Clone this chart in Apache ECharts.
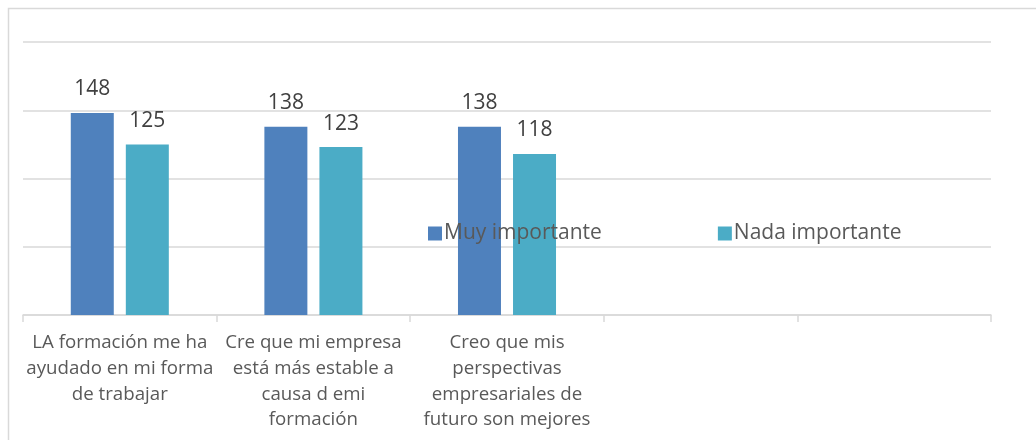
<!DOCTYPE html>
<html>
<head>
<meta charset="utf-8">
<script src="https://cdn.jsdelivr.net/npm/echarts@6/dist/echarts.min.js"></script>
<style>
  html, body { margin: 0; padding: 0; background: #fff; }
  #chart { width: 1036px; height: 440px; }
</style>
</head>
<body>
<div id="chart"></div>
<script>
  // categorias (las dos ultimas van vacias como en el original)
  var categories = [
    'LA formación me ha\nayudado en mi forma\nde trabajar',
    'Cre que mi empresa\nestá más estable a\ncausa d emi\nformación',
    'Creo que mis\nperspectivas\nempresariales de\nfuturo son mejores',
    '',
    ''
  ];
  var muyImportante = [148, 138, 138, null, null];
  var nadaImportante = [125, 123, 118, null, null];
  var seriesNames = ['Muy importante', 'Nada importante'];

  var font = '"Open Sans", sans-serif';
  var chart = echarts.init(document.getElementById('chart'));

  var barLabel = {
    show: true,
    position: 'top',
    distance: 13,
    color: '#404040',
    fontSize: 21,
    fontFamily: font
  };

  var option = {
    animation: false,
    color: ['#4f81bd', '#4bacc6'],
    graphic: [{
      type: 'rect',
      shape: { x: 8.5, y: 8.5, width: 1100, height: 500 },
      style: { fill: 'none', stroke: '#d9d9d9', lineWidth: 1.5 },
      silent: true
    }],
    legend: {
      data: seriesNames,
      left: 423,
      top: 218,
      itemWidth: 14,
      itemHeight: 14,
      itemGap: 116,
      icon: 'rect',
      textStyle: { color: '#595959', fontSize: 21, fontFamily: font, padding: [0, 0, 0, -3] }
    },
    grid: { left: 23, right: 45, top: 42, bottom: 125 },
    xAxis: {
      type: 'category',
      data: categories,
      axisLine: { lineStyle: { color: '#d9d9d9', width: 1.5 } },
      axisTick: { show: true, length: 7, lineStyle: { color: '#d9d9d9', width: 1.5 } },
      axisLabel: {
        interval: 0,
        margin: 15,
        color: '#595959',
        fontSize: 18.7,
        lineHeight: 25.7,
        fontFamily: font
      }
    },
    yAxis: {
      type: 'value',
      min: 0,
      max: 200,
      interval: 50,
      axisLabel: { show: false },
      axisLine: { show: false },
      axisTick: { show: false },
      splitLine: { lineStyle: { color: '#d9d9d9', width: 1.5 } }
    },
    series: [
      {
        name: seriesNames[0],
        type: 'bar',
        data: muyImportante,
        barWidth: 43,
        barGap: '28%',
        label: barLabel
      },
      {
        name: seriesNames[1],
        type: 'bar',
        data: nadaImportante,
        barWidth: 43,
        label: barLabel
      }
    ]
  };

  chart.setOption(option);
</script>
</body>
</html>
